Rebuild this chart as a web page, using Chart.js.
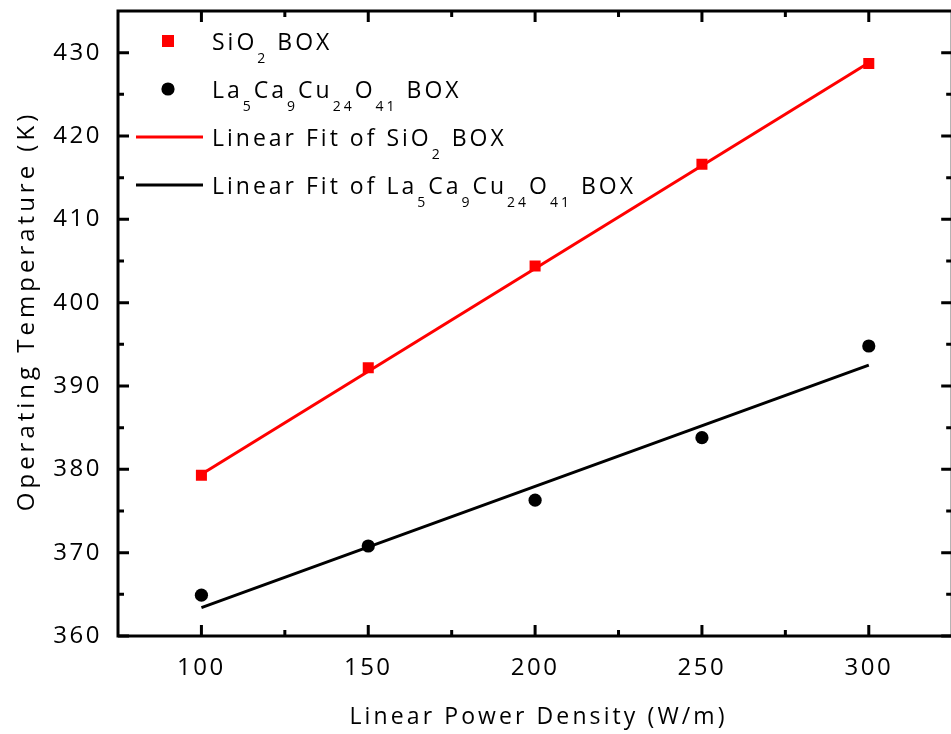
<!DOCTYPE html>
<html>
<head>
<meta charset="utf-8">
<script src="https://cdn.jsdelivr.net/npm/chart.js@4"></script>
<style>
  html, body { margin: 0; padding: 0; background: #fff; overflow: hidden; }
  canvas { display: block; }
</style>
</head>
<body>
<canvas id="chart" width="960" height="734"></canvas>
<script>
const powerDensity = [100, 150, 200, 250, 300];
const sio2Temp = [379.3, 392.2, 404.4, 416.6, 428.7];
const lcoTemp = [364.9, 370.8, 376.3, 383.8, 394.8];

// linear fit end points
const fitX = [100, 300];
const sio2Fit = [379.4, 428.8];
const lcoFit = [363.4, 392.5];

const xTicks = [100, 150, 200, 250, 300];
const xMinor = [125, 175, 225, 275];
const yTicks = [360, 370, 380, 390, 400, 410, 420, 430];
const yMinor = [365, 375, 385, 395, 405, 415, 425];

const xTitle = "Linear Power Density (W/m)";
const yTitle = "Operating Temperature (K)";

const FONT = "'Open Sans', sans-serif";

// legend text pieces: [text, subscript?]
const legendItems = [
  { kind: "rect", color: "#ff0000", parts: [["SiO", 0], ["2", 1], [" BOX", 0]] },
  { kind: "circle", color: "#000000", parts: [["La", 0], ["5", 1], ["Ca", 0], ["9", 1], ["Cu", 0], ["24", 1], ["O", 0], ["41", 1], [" BOX", 0]] },
  { kind: "line", color: "#ff0000", parts: [["Linear Fit of SiO", 0], ["2", 1], [" BOX", 0]] },
  { kind: "line", color: "#000000", parts: [["Linear Fit of La", 0], ["5", 1], ["Ca", 0], ["9", 1], ["Cu", 0], ["24", 1], ["O", 0], ["41", 1], [" BOX", 0]] }
];

function toPoints(xs, ys) {
  return xs.map((x, i) => ({ x: x, y: ys[i] }));
}

// text with letter spacing, centred without the trailing gap
function spacedText(ctx, text, x, y, spacing) {
  ctx.letterSpacing = spacing + "px";
  const w = ctx.measureText(text).width - spacing;
  ctx.textAlign = "left";
  ctx.fillText(text, x - w / 2, y);
}

const framePlugin = {
  id: "frame",
  beforeDraw(chart) {
    chart.ctx.letterSpacing = "2.5px";
  },
  afterDraw(chart) {
    const ctx = chart.ctx;
    const a = chart.chartArea;
    const xs = chart.scales.x;
    const ys = chart.scales.y;

    ctx.save();
    ctx.strokeStyle = "#000";
    ctx.lineWidth = 3;
    ctx.strokeRect(a.left, a.top, a.right - a.left, a.bottom - a.top);

    ctx.beginPath();
    xTicks.forEach(v => {
      const px = xs.getPixelForValue(v);
      ctx.moveTo(px, a.bottom); ctx.lineTo(px, a.bottom - 11);
      ctx.moveTo(px, a.top); ctx.lineTo(px, a.top + 11);
    });
    xMinor.forEach(v => {
      const px = xs.getPixelForValue(v);
      ctx.moveTo(px, a.bottom); ctx.lineTo(px, a.bottom - 6);
      ctx.moveTo(px, a.top); ctx.lineTo(px, a.top + 6);
    });
    yTicks.forEach(v => {
      const py = ys.getPixelForValue(v);
      ctx.moveTo(a.left, py); ctx.lineTo(a.left + 11, py);
      ctx.moveTo(a.right, py); ctx.lineTo(a.right - 11, py);
    });
    yMinor.forEach(v => {
      const py = ys.getPixelForValue(v);
      ctx.moveTo(a.left, py); ctx.lineTo(a.left + 6, py);
      ctx.moveTo(a.right, py); ctx.lineTo(a.right - 6, py);
    });
    ctx.stroke();

    // axis titles
    ctx.fillStyle = "#000";
    ctx.textBaseline = "middle";
    ctx.font = "23px " + FONT;
    spacedText(ctx, xTitle, 537, 717, 3.1);
    ctx.save();
    ctx.translate(27, 313);
    ctx.rotate(-Math.PI / 2);
    ctx.font = "24px " + FONT;
    spacedText(ctx, yTitle, 0, 0, 4);
    ctx.restore();

    // legend
    const rows = [41, 89, 137, 185];
    legendItems.forEach((item, i) => {
      const y = rows[i];
      ctx.fillStyle = item.color;
      ctx.strokeStyle = item.color;
      if (item.kind === "rect") {
        ctx.fillRect(168 - 6, y - 6, 12, 12);
      } else if (item.kind === "circle") {
        ctx.beginPath();
        ctx.arc(168, y, 6.6, 0, Math.PI * 2);
        ctx.fill();
      } else {
        ctx.lineWidth = 3;
        ctx.beginPath();
        ctx.moveTo(136, y);
        ctx.lineTo(203, y);
        ctx.stroke();
      }
      let tx = 212;
      ctx.fillStyle = "#000";
      ctx.textBaseline = "alphabetic";
      ctx.textAlign = "left";
      ctx.letterSpacing = "3px";
      item.parts.forEach(([t, sub]) => {
        ctx.font = (sub ? "14px " : "23px ") + FONT;
        ctx.fillText(t, tx, sub ? y + 22 : y + 9);
        tx += ctx.measureText(t).width;
      });
    });
    ctx.restore();
  }
};

const chart = new Chart(document.getElementById("chart"), {
  type: "scatter",
  data: {
    datasets: [
      {
        label: "SiO2 BOX",
        data: toPoints(powerDensity, sio2Temp),
        pointStyle: "rect",
        pointRadius: 7.8,
        backgroundColor: "#ff0000",
        borderColor: "#ff0000",
        borderWidth: 0
      },
      {
        label: "La5Ca9Cu24O41 BOX",
        data: toPoints(powerDensity, lcoTemp),
        pointStyle: "circle",
        pointRadius: 6.6,
        backgroundColor: "#000000",
        borderColor: "#000000",
        borderWidth: 0
      },
      {
        label: "Linear Fit of SiO2 BOX",
        data: toPoints(fitX, sio2Fit),
        showLine: true,
        pointRadius: 0,
        borderColor: "#ff0000",
        borderWidth: 3
      },
      {
        label: "Linear Fit of La5Ca9Cu24O41 BOX",
        data: toPoints(fitX, lcoFit),
        showLine: true,
        pointRadius: 0,
        borderColor: "#000000",
        borderWidth: 3
      }
    ]
  },
  options: {
    responsive: false,
    animation: false,
    events: [],
    layout: { padding: { left: 0, top: 11, right: 4, bottom: 0 } },
    plugins: {
      legend: { display: false },
      tooltip: { enabled: false }
    },
    scales: {
      x: {
        type: "linear",
        min: 75,
        max: 325,
        grid: { display: false, drawTicks: false },
        border: { display: false },
        afterBuildTicks: s => { s.ticks = xTicks.map(v => ({ value: v })); },
        afterFit: s => {
          s.height = 98;
          s.paddingLeft = 0; s.paddingRight = 0;
          s.paddingTop = 0; s.paddingBottom = 0;
        },
        ticks: {
          color: "#000",
          font: { family: FONT, size: 24 },
          padding: 18,
          maxRotation: 0
        }
      },
      y: {
        type: "linear",
        min: 360,
        max: 435,
        grid: { display: false, drawTicks: false },
        border: { display: false },
        afterBuildTicks: s => { s.ticks = yTicks.map(v => ({ value: v })); },
        afterFit: s => {
          s.width = 118;
          s.paddingLeft = 0; s.paddingRight = 0;
          s.paddingTop = 0; s.paddingBottom = 0;
        },
        ticks: {
          color: "#000",
          font: { family: FONT, size: 24 },
          padding: 16
        }
      }
    }
  },
  plugins: [framePlugin]
});
</script>
</body>
</html>
